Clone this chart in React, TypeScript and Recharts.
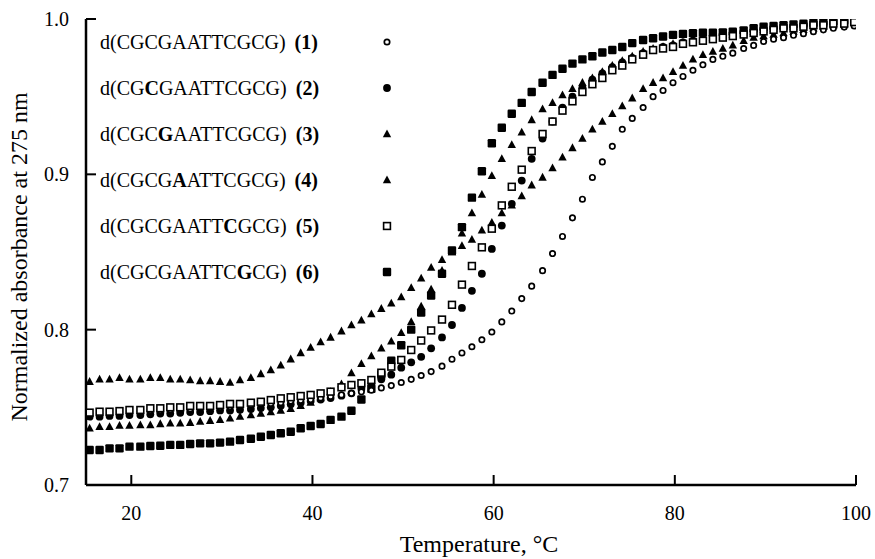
import React from 'react';
import { ScatterChart, Scatter, XAxis, YAxis, Legend, Label } from 'recharts';

const TEMPS = [15.4,16.5,17.6,18.7,19.8,21.0,22.1,23.2,24.3,25.4,26.5,27.6,28.7,29.8,30.9,32.0,33.2,34.3,35.4,36.5,37.6,38.7,39.8,40.9,42.0,43.2,44.3,45.4,46.5,47.6,48.7,49.8,50.9,52.0,53.1,54.3,55.4,56.5,57.6,58.7,59.8,60.9,62.0,63.1,64.2,65.4,66.5,67.6,68.7,69.8,70.9,72.0,73.1,74.2,75.3,76.5,77.6,78.7,79.8,80.9,82.0,83.1,84.2,85.3,86.4,87.6,88.7,89.8,90.9,92.0,93.1,94.2,95.3,96.4,97.5,98.7,99.8];

const S1 = [0.746,0.746,0.7465,0.747,0.747,0.7475,0.748,0.748,0.7485,0.749,
  0.749,0.7495,0.750,0.750,0.7505,0.751,0.7515,0.752,0.7525,0.753,
  0.754,0.7545,0.755,0.756,0.757,0.758,0.759,0.760,0.761,0.7625,
  0.764,0.766,0.768,0.7705,0.773,0.7765,0.781,0.785,0.789,0.7935,
  0.7985,0.805,0.812,0.820,0.828,0.838,0.849,0.860,0.872,0.884,
  0.898,0.908,0.918,0.929,0.936,0.943,0.950,0.954,0.959,0.963,
  0.967,0.9705,0.974,0.976,0.978,0.981,0.983,0.9855,0.987,0.988,
  0.9895,0.9905,0.9918,0.993,0.994,0.9948,0.9955];

const S2 = [0.744,0.744,0.7445,0.7445,0.745,0.745,0.7455,0.746,0.746,0.7465,
  0.747,0.747,0.7475,0.748,0.748,0.7485,0.749,0.7495,0.750,0.751,
  0.752,0.753,0.754,0.755,0.756,0.7575,0.759,0.762,0.765,0.768,
  0.771,0.7755,0.779,0.7825,0.788,0.795,0.803,0.814,0.825,0.836,
  0.852,0.867,0.881,0.896,0.910,0.923,0.934,0.943,0.950,0.956,
  0.961,0.965,0.969,0.972,0.975,0.978,0.980,0.982,0.983,0.985,
  0.986,0.987,0.988,0.989,0.990,0.991,0.992,0.993,0.994,0.994,
  0.995,0.996,0.996,0.997,0.997,0.998,0.998];

const S3 = [0.7365,0.7375,0.7375,0.7382,0.7382,0.7386,0.7386,0.7393,0.7397,0.7397,
  0.7401,0.7408,0.7414,0.7419,0.7429,0.744,0.745,0.746,0.747,0.748,
  0.749,0.751,0.753,0.756,0.760,0.765,0.772,0.778,0.783,0.788,
  0.7925,0.798,0.805,0.815,0.826,0.838,0.850,0.862,0.875,0.887,
  0.899,0.910,0.919,0.927,0.935,0.942,0.946,0.951,0.955,0.959,
  0.962,0.966,0.970,0.973,0.976,0.979,0.981,0.982,0.984,0.985,
  0.986,0.987,0.988,0.989,0.990,0.991,0.992,0.993,0.994,0.995,
  0.995,0.996,0.996,0.997,0.997,0.998,0.998];

const S4 = [0.7665,0.768,0.768,0.769,0.768,0.768,0.769,0.769,0.768,0.768,
  0.7676,0.767,0.767,0.7665,0.766,0.7675,0.769,0.7715,0.774,0.777,
  0.781,0.785,0.7885,0.792,0.795,0.799,0.803,0.806,0.810,0.8135,
  0.817,0.821,0.827,0.833,0.840,0.845,0.850,0.854,0.858,0.864,
  0.869,0.875,0.880,0.886,0.893,0.898,0.904,0.911,0.917,0.923,
  0.929,0.934,0.939,0.944,0.949,0.955,0.959,0.962,0.966,0.970,
  0.974,0.977,0.979,0.981,0.983,0.986,0.988,0.989,0.990,0.991,
  0.992,0.993,0.994,0.995,0.996,0.997,0.998];

const S5 = [0.7466,0.7472,0.7472,0.7476,0.7483,0.7483,0.7494,0.7494,0.750,0.750,
  0.7509,0.7509,0.7509,0.7515,0.7522,0.7522,0.753,0.7536,0.7547,0.7558,
  0.7565,0.7573,0.758,0.759,0.7601,0.7629,0.7644,0.7655,0.7676,0.7723,
  0.7762,0.7805,0.7869,0.793,0.7995,0.8065,0.816,0.829,0.841,0.853,
  0.865,0.880,0.892,0.903,0.915,0.926,0.934,0.941,0.947,0.953,
  0.958,0.962,0.967,0.970,0.974,0.977,0.980,0.981,0.982,0.984,
  0.985,0.986,0.987,0.988,0.989,0.990,0.991,0.992,0.993,0.994,
  0.994,0.995,0.996,0.996,0.997,0.997,0.998];

const S6 = [0.7225,0.7225,0.7236,0.7236,0.7247,0.7247,0.7251,0.7253,0.7258,0.7258,
  0.7264,0.7268,0.7268,0.7273,0.7279,0.729,0.7298,0.7311,0.7322,0.7333,
  0.7343,0.7365,0.738,0.7393,0.7419,0.744,0.7478,0.755,0.762,0.771,
  0.780,0.790,0.800,0.811,0.822,0.836,0.851,0.866,0.885,0.902,
  0.920,0.930,0.939,0.946,0.953,0.959,0.964,0.968,0.9713,0.974,
  0.976,0.9784,0.980,0.982,0.9845,0.9865,0.9876,0.9887,0.9898,0.9904,
  0.9909,0.9912,0.9912,0.9914,0.9919,0.9927,0.9941,0.995,0.9955,0.996,
  0.9965,0.997,0.9975,0.998,0.9985,0.999,0.9995];

const X_TICKS = [20, 40, 60, 80, 100];
const Y_TICKS = [0.7, 0.8, 0.9, 1.0];

const LEGEND_SEQ: [string, string, string][] = [
  ['CGCGAATTCGCG', '', ''],
  ['CG', 'C', 'GAATTCGCG'],
  ['CGC', 'G', 'AATTCGCG'],
  ['CGCG', 'A', 'ATTCGCG'],
  ['CGCGAATT', 'C', 'GCG'],
  ['CGCGAATTC', 'G', 'CG'],
];
const LEGEND_NUM = ['1', '2', '3', '4', '5', '6'];

const FONT = "'Liberation Serif', 'Times New Roman', Times, serif";

type Kind = 'openCircle' | 'circle' | 'triangle' | 'openSquare' | 'square';
const KINDS: Kind[] = ['openCircle', 'circle', 'triangle', 'triangle', 'openSquare', 'square'];

function Marker({ kind, cx, cy }: { kind: Kind; cx: number; cy: number }) {
  switch (kind) {
    case 'openCircle':
      return <circle cx={cx} cy={cy} r={2.7} fill="#fff" stroke="#000" strokeWidth={1.7} />;
    case 'circle':
      return <circle cx={cx} cy={cy} r={3.9} fill="#000" />;
    case 'triangle':
      return <polygon points={`${cx},${cy - 4.6} ${cx - 4.2},${cy + 3.2} ${cx + 4.2},${cy + 3.2}`} fill="#000" />;
    case 'openSquare':
      return <rect x={cx - 3.4} y={cy - 3.4} width={6.8} height={6.8} fill="#fff" stroke="#000" strokeWidth={1.6} />;
    case 'square':
    default:
      return <rect x={cx - 4.2} y={cy - 4.2} width={8.4} height={8.4} rx={1.2} fill="#000" />;
  }
}

const makeShape = (kind: Kind) => (props: any) => {
  if (props.cx == null || props.cy == null) return <g />;
  return <Marker kind={kind} cx={props.cx} cy={props.cy} />;
};

const SERIES = [S1, S2, S3, S4, S5, S6];
const DATA = SERIES.map((s) => TEMPS.map((t, i) => ({ t, v: s[i] })));
const DRAW_ORDER = [5, 2, 3, 1, 0, 4];

function LegendBox() {
  return (
    <div style={{ position: 'relative', width: 320, height: 280, fontFamily: FONT, fontSize: 20, color: '#000' }}>
      {LEGEND_SEQ.map((seq, i) => (
        <div key={i} style={{ position: 'absolute', left: 0, top: i * 46, height: 46, width: 320, display: 'flex', alignItems: 'center', whiteSpace: 'pre' }}>
          <span>
            d({seq[0]}<b>{seq[1]}</b>{seq[2]})<span style={{ marginLeft: 9 }}><b>({LEGEND_NUM[i]})</b></span>
          </span>
          <svg width={14} height={14} style={{ position: 'absolute', left: 280, top: 16 }}>
            <Marker kind={KINDS[i]} cx={7} cy={7} />
          </svg>
        </div>
      ))}
    </div>
  );
}

export default function App() {
  return (
    <div style={{ position: 'absolute', left: 0, top: 0, background: '#fff' }}>
      <ScatterChart width={875} height={559} margin={{ top: 19, right: 19, bottom: 0, left: 0 }}>
        <XAxis
          dataKey="t"
          type="number"
          domain={[15, 100]}
          ticks={X_TICKS}
          allowDataOverflow
          height={74}
          axisLine={{ stroke: '#000', strokeWidth: 2.5 }}
          tickLine={{ stroke: '#000', strokeWidth: 2 }}
          tickSize={-10}
          tickMargin={31}
          tick={{ fill: '#000', fontSize: 20, fontFamily: FONT }}
        >
          <Label
            content={() => (
              <text x={479} y={552} textAnchor="middle" fontFamily={FONT} fontSize={24} fill="#000">
                Temperature, °C
              </text>
            )}
          />
        </XAxis>
        <XAxis xAxisId="top" orientation="top" type="number" domain={[15, 100]} height={0} tick={false} tickLine={false} axisLine={{ stroke: '#000', strokeWidth: 2.5 }} />
        <YAxis
          dataKey="v"
          type="number"
          domain={[0.7, 1.0]}
          ticks={Y_TICKS}
          allowDataOverflow
          width={86}
          axisLine={{ stroke: '#000', strokeWidth: 2.5 }}
          tickLine={{ stroke: '#000', strokeWidth: 2 }}
          tickSize={-10}
          tickMargin={27}
          tickFormatter={(v: number) => v.toFixed(1)}
          tick={{ fill: '#000', fontSize: 20, fontFamily: FONT }}
        >
          <Label
            content={() => (
              <text x={27} y={257} transform="rotate(-90, 27, 257)" textAnchor="middle" fontFamily={FONT} fontSize={24} fill="#000">
                Normalized absorbance at 275 nm
              </text>
            )}
          />
        </YAxis>
        <YAxis yAxisId="right" orientation="right" type="number" domain={[0.7, 1.0]} width={0} tick={false} tickLine={false} axisLine={{ stroke: '#000', strokeWidth: 2.5 }} />
        <Legend
          layout="vertical"
          align="center"
          verticalAlign="middle"
          wrapperStyle={{ position: 'absolute', left: 100, top: 19, width: 320, height: 280 }}
          content={() => <LegendBox />}
        />
        {DRAW_ORDER.map((idx) => (
          <Scatter
            key={idx}
            name={`(${idx + 1})`}
            data={DATA[idx]}
            dataKey="v"
            isAnimationActive={false}
            shape={makeShape(KINDS[idx])}
          />
        ))}
      </ScatterChart>
    </div>
  );
}
